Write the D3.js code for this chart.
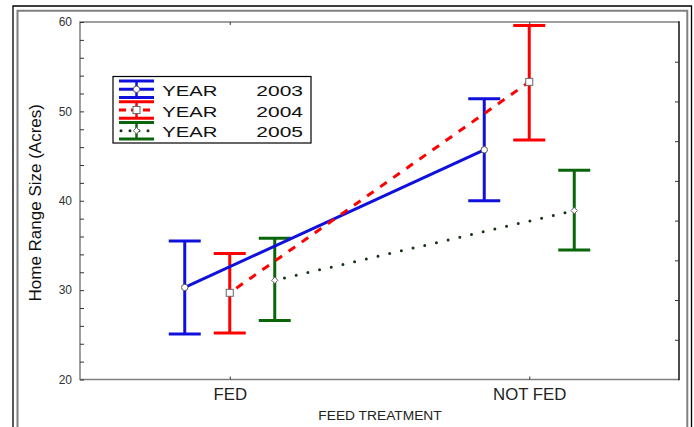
<!DOCTYPE html>
<html>
<head>
<meta charset="utf-8">
<script src="https://cdn.jsdelivr.net/npm/d3@7/dist/d3.min.js"></script>
<style>
  body { margin: 0; background: #fff; }
  svg { display: block; font-family: "Liberation Sans", Arial, sans-serif; }
</style>
</head>
<body>
<svg id="chart" width="694" height="427"></svg>
<script>
// ---- data ----
const categories = ["FED", "NOT FED"];
const years = ["2003", "2004", "2005"];
const mean2003 = [30.3, 45.7];
const lower2003 = [25.1, 40.0];
const upper2003 = [35.5, 51.4];
const mean2004 = [29.7, 53.3];
const lower2004 = [25.2, 46.8];
const upper2004 = [34.1, 59.6];
const mean2005 = [31.1, 38.9];
const lower2005 = [26.6, 34.5];
const upper2005 = [35.8, 43.4];
const yTickLabels = [20, 30, 40, 50, 60];
const xTitle = "FEED TREATMENT";
const yTitle = "Home Range Size (Acres)";
const legendLabel = "YEAR";

const series = [
  { year: years[0], mean: mean2003, lower: lower2003, upper: upper2003, color: "#1010dd", dash: null, marker: "circle" },
  { year: years[1], mean: mean2004, lower: lower2004, upper: upper2004, color: "#ff0000", dash: "8,8", marker: "square" },
  { year: years[2], mean: mean2005, lower: lower2005, upper: upper2005, color: "#0a640a", dash: "0,12", marker: "diamond" }
];

const svg = d3.select("#chart");
const W = 694, H = 427;
const plot = { left: 80, top: 22, right: 679, bottom: 379.5 };

// outer frame
svg.append("path").attr("d", `M13,${H+5}V6H691.5V${H+5}`).attr("fill", "none").attr("stroke", "#000").attr("stroke-width", 1.3);
svg.append("path").attr("d", `M17.5,${H+5}V10.8H687.3V${H+5}`).attr("fill", "none").attr("stroke", "#808080").attr("stroke-width", 2);

const x = d3.scalePoint().domain(categories).range([plot.left, plot.right]).padding(0.5);
const off = d3.scalePoint().domain(years).range([-45, 45]);
const y = d3.scaleLinear().domain([20, 60]).range([plot.bottom, plot.top]);
const yRight = d3.scaleLinear().domain([0, 9]).range([plot.bottom, plot.top]);

// plot border
svg.append("path").attr("d", `M${plot.right},${plot.top}H${plot.left}V${plot.bottom}H${plot.right}`)
  .attr("fill", "none").attr("stroke", "#808080").attr("stroke-width", 1.5);
svg.append("line").attr("x1", plot.right).attr("x2", plot.right).attr("y1", plot.top - 0.7).attr("y2", plot.bottom + 0.7)
  .attr("stroke", "#111").attr("stroke-width", 1.5);

// left axis (ticks inward)
const yAxisMinor = d3.axisRight(y).tickValues(d3.range(20, 61, 2)).tickSize(4).tickFormat("");
const gl = svg.append("g").attr("transform", `translate(${plot.left},0)`).call(yAxisMinor);
gl.select(".domain").remove();
gl.selectAll("line").attr("stroke", "#333").attr("stroke-width", 1);

const yAxisLabels = d3.axisLeft(y).tickValues(yTickLabels).tickSize(0).tickPadding(8).tickFormat(d3.format("d"));
const gll = svg.append("g").attr("transform", `translate(${plot.left},0)`).call(yAxisLabels);
gll.select(".domain").remove();
gll.selectAll("text").attr("font-size", 12).attr("fill", "#333").attr("font-family", "Liberation Sans, Arial, sans-serif");

// right axis ticks (inward)
const gr = svg.append("g").attr("transform", `translate(${plot.right},0)`)
  .call(d3.axisLeft(yRight).tickValues(d3.range(1, 9)).tickSize(4).tickFormat(""));
gr.select(".domain").remove();
gr.selectAll("line").attr("stroke", "#333");

// bottom axis
const gb = svg.append("g").attr("transform", `translate(0,${plot.bottom})`)
  .call(d3.axisTop(x).tickSize(3).tickFormat(""));
gb.select(".domain").remove();
gb.selectAll("line").attr("stroke", "#333");
const gbl = svg.append("g").attr("transform", `translate(0,${plot.bottom})`)
  .call(d3.axisBottom(x).tickSize(0).tickPadding(9));
gbl.select(".domain").remove();
gbl.selectAll("text").attr("font-size", 16).attr("fill", "#222").attr("font-family", "Liberation Sans, Arial, sans-serif")
  .attr("transform", "scale(1.05,1)");

// top axis
const gt = svg.append("g").attr("transform", `translate(0,${plot.top})`)
  .call(d3.axisBottom(x).tickSize(3).tickFormat(""));
gt.select(".domain").remove();
gt.selectAll("line").attr("stroke", "#333");

// titles
svg.append("text").attr("transform", `translate(${(plot.left + plot.right) / 2 + 0.5},420) scale(1.06,1)`)
  .attr("text-anchor", "middle").attr("font-size", 13).attr("fill", "#222").text(xTitle);
svg.append("text").attr("transform", `translate(41,${(plot.top + plot.bottom) / 2 + 2}) rotate(-90)`)
  .attr("text-anchor", "middle").attr("font-size", 17).attr("fill", "#111").text(yTitle);

// marker drawer
function drawMarker(g, type, cx, cy) {
  if (type === "circle") {
    g.append("circle").attr("cx", cx).attr("cy", cy).attr("r", 3.2)
      .attr("fill", "#fff").attr("stroke", "#555").attr("stroke-width", 1);
  } else if (type === "square") {
    g.append("rect").attr("x", cx - 3.5).attr("y", cy - 3.5).attr("width", 7).attr("height", 7)
      .attr("fill", "#fff").attr("stroke", "#666").attr("stroke-width", 1);
  } else {
    g.append("path").attr("d", `M${cx},${cy - 3.2}L${cx + 3.2},${cy}L${cx},${cy + 3.2}L${cx - 3.2},${cy}Z`)
      .attr("fill", "#fff").attr("stroke", "#666").attr("stroke-width", 1);
  }
}

const cap = 16;

series.forEach(s => {
  const g = svg.append("g");
  const dx = off(s.year);
  // error bars
  categories.forEach((c, i) => {
    const cx = x(c) + dx;
    g.append("line").attr("x1", cx).attr("x2", cx).attr("y1", y(s.lower[i])).attr("y2", y(s.upper[i]))
      .attr("stroke", s.color).attr("stroke-width", 3);
    [s.lower[i], s.upper[i]].forEach(v => {
      g.append("line").attr("x1", cx - cap).attr("x2", cx + cap).attr("y1", y(v)).attr("y2", y(v))
        .attr("stroke", s.color).attr("stroke-width", 3);
    });
  });
});

series.forEach(s => {
  const dx = off(s.year);
  const p = svg.append("path").datum(s.mean)
    .attr("d", d3.line().x((d, i) => x(categories[i]) + dx).y(d => y(d)))
    .attr("fill", "none");
  if (s.marker === "diamond") {
    p.attr("stroke", "#143314").attr("stroke-width", 3).attr("stroke-linecap", "round").attr("stroke-dasharray", s.dash)
      .attr("stroke-dashoffset", -10);
  } else if (s.dash) {
    p.attr("stroke", s.color).attr("stroke-width", 3).attr("stroke-dasharray", s.dash).attr("stroke-dashoffset", -8);
  } else {
    p.attr("stroke", s.color).attr("stroke-width", 3);
  }
});

series.forEach(s => {
  const g = svg.append("g");
  const dx = off(s.year);
  categories.forEach((c, i) => drawMarker(g, s.marker, x(c) + dx, y(s.mean[i])));
});

// legend
const lg = svg.append("g");
const lgBox = { x: 113, y: 76.5, w: 198, h: 66.5 };
lg.append("rect").attr("x", lgBox.x).attr("y", lgBox.y).attr("width", lgBox.w).attr("height", lgBox.h)
  .attr("fill", "#fff").attr("stroke", "#000").attr("stroke-width", 1.2);
const rowH = 20.7;
series.forEach((s, k) => {
  const cy = 89.3 + k * rowH;
  const sx0 = 119, sx1 = 154, scx = 136.5;
  const half = 8.3;
  lg.append("line").attr("x1", scx).attr("x2", scx).attr("y1", cy - half).attr("y2", cy + half)
    .attr("stroke", s.color).attr("stroke-width", 2.5);
  [cy - half, cy + half].forEach(v => {
    lg.append("line").attr("x1", sx0).attr("x2", sx1).attr("y1", v).attr("y2", v)
      .attr("stroke", s.color).attr("stroke-width", 3);
  });
  const ml = lg.append("line").attr("x1", sx0).attr("x2", sx1).attr("y1", cy).attr("y2", cy).attr("stroke-width", 3);
  if (s.marker === "diamond") {
    ml.attr("stroke", "#143314").attr("stroke-linecap", "round").attr("stroke-dasharray", "0,9").attr("stroke-dashoffset", -2);
  } else if (s.dash) {
    ml.attr("stroke", s.color).attr("stroke-dasharray", "7,5");
  } else {
    ml.attr("stroke", s.color);
  }
  drawMarker(lg, s.marker, scx, cy);
  lg.append("text").attr("transform", `translate(162.3,${cy + 6.7}) scale(1.35,1)`)
    .attr("font-size", 15).attr("fill", "#111").text(legendLabel);
  lg.append("text").attr("transform", `translate(303,${cy + 6.7}) scale(1.4,1)`)
    .attr("text-anchor", "end").attr("font-size", 15).attr("fill", "#111").text(s.year);
});
</script>
</body>
</html>
